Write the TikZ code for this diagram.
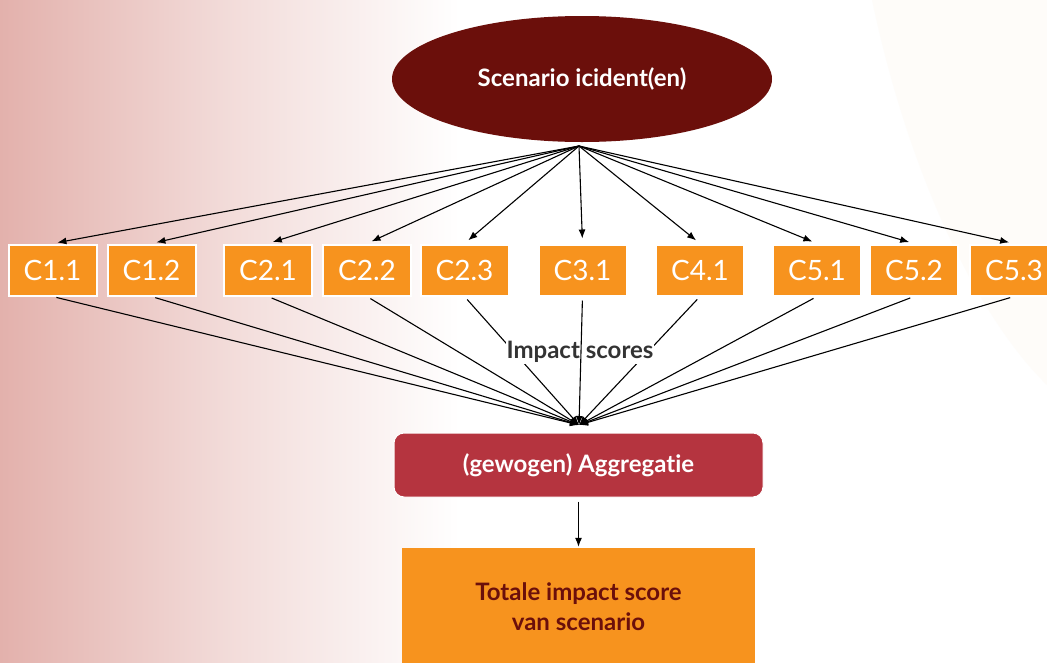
\documentclass[tikz,border=0pt]{standalone}
\usepackage{fontspec}
\setmainfont{Lato}[Ligatures=NoCommon]
\usetikzlibrary{shapes.geometric,arrows.meta}
\definecolor{scenred}{HTML}{6B0F0B}
\definecolor{aggred}{HTML}{B5343F}
\definecolor{corange}{HTML}{F7931E}
\definecolor{bgpink}{HTML}{E3B1AC}
\definecolor{bgcream}{HTML}{FEFCF9}
\definecolor{labelgray}{HTML}{333333}
\begin{document}
\begin{tikzpicture}[x=1pt, y=-1pt, >={Latex[length=9pt,width=7pt]},
  cbox/.style={rectangle, fill=corange, draw=white, line width=2pt,
    minimum width=88pt, minimum height=51pt, inner sep=0pt,
    text=white, font=\fontsize{28}{28}\selectfont},
  link/.style={line width=1.1pt}]

% --- background ---
\useasboundingbox (0,0) rectangle (1047,662);
\fill[white] (0,0) rectangle (1047,662);
\shade[left color=bgpink, right color=white, middle color=bgpink!45] (0,0) rectangle (460,662);
\fill[bgcream] (872,0) .. controls (910,180) and (980,320) .. (1047,385) -- (1047,0) -- cycle;

% --- scenario ---
\node[ellipse, fill=scenred, minimum width=380pt, minimum height=126pt, text=white,
  font=\bfseries\fontsize{24}{24}\selectfont] (scen) at (582,79) {Scenario icident(en)};
\coordinate (fan) at (579,146);

% --- criteria ---
\node[cbox] (c11) at (52.5,270) {C1.1};
\node[cbox] (c12) at (151.5,270) {C1.2};
\node[cbox] (c21) at (268,270) {C2.1};
\node[cbox] (c22) at (367,270) {C2.2};
\node[cbox] (c23) at (464.5,270) {C2.3};
\node[cbox] (c31) at (582.5,270) {C3.1};
\node[cbox] (c41) at (700,270) {C4.1};
\node[cbox] (c51) at (817,270) {C5.1};
\node[cbox] (c52) at (914,270) {C5.2};
\node[cbox] (c53) at (1014,270) {C5.3};

\foreach \c in {c11,c12,c21,c22,c23,c31,c41,c51,c52,c53}
  \draw[link, ->, shorten >=5pt] (fan) -- (\c.north);

% --- impact scores ---
\coordinate (join) at (579,425);
\foreach \c in {c11,c12,c21,c22,c23,c41,c51,c52,c53}
  \draw[link, ->, shorten <=4pt] (\c.south) -- (join);
\node[fill=white, inner sep=1pt, text=labelgray, font=\bfseries\fontsize{24}{24}\selectfont]
  (imp) at (580,352) {Impact scores};
\draw[link, ->, shorten <=4pt] (c31.south) -- (join);

% --- aggregatie ---
\node[rectangle, rounded corners=10pt, fill=aggred, draw=white, line width=1pt,
  minimum width=369pt, minimum height=64pt, text=white,
  font=\bfseries\fontsize{24}{24}\selectfont] (agg) at (578.5,465) {(gewogen) Aggregatie};
\node[rectangle, fill=corange, minimum width=353pt, minimum height=118pt, text=scenred,
  align=center, font=\bfseries\fontsize{24}{30}\selectfont] (tot) at (578.5,607)
  {Totale impact score\\van scenario};
\draw[link, ->, shorten <=4pt, shorten >=1pt] (agg.south) -- (tot.north);

\end{tikzpicture}
\end{document}
